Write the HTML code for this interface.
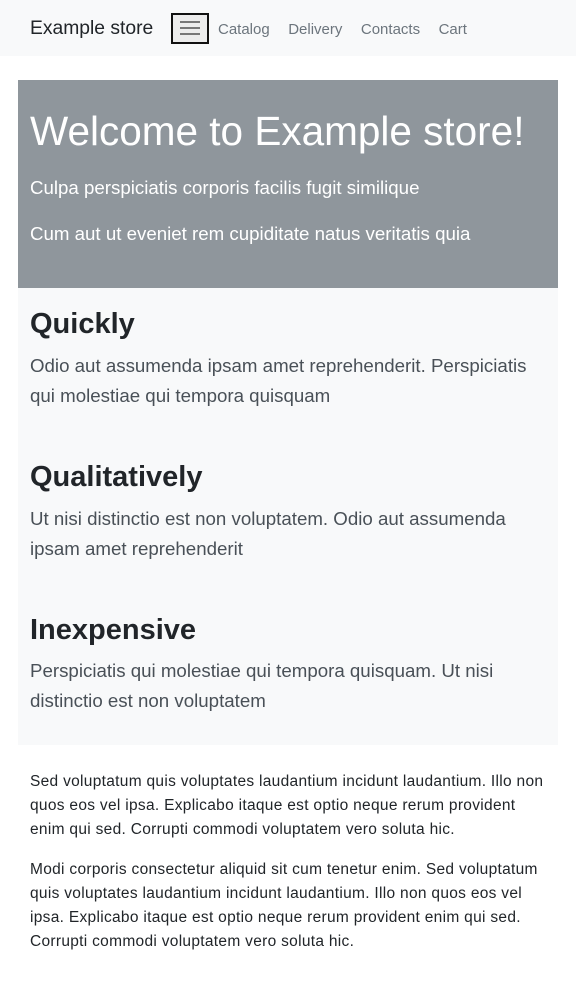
<!DOCTYPE html>
<html><head><meta charset="utf-8"><style>
*{margin:0;padding:0;box-sizing:border-box}
body{width:576px;height:1000px;background:#fff;font-family:"Liberation Sans",sans-serif;position:relative;overflow:hidden;color:#212529}
.a{position:absolute;white-space:nowrap}
</style></head><body>
<div class="a" style="left:0;top:0;width:576px;height:56px;background:#f8f9fa"></div>
<div class="a" style="left:30px;top:18px;font-size:19.3px;color:#212529">Example store</div>
<div class="a" style="left:171px;top:13px;width:38px;height:31px;border:2px solid #111;background:#ececec"></div>
<div class="a" style="left:180px;top:21px;width:20px;height:2px;background:#777"></div>
<div class="a" style="left:180px;top:27px;width:20px;height:2px;background:#777"></div>
<div class="a" style="left:180px;top:33px;width:20px;height:2px;background:#777"></div>
<div class="a" style="left:218px;top:21px;font-size:15px;color:#6c757d;word-spacing:2px">Catalog&nbsp;&nbsp;&nbsp;Delivery&nbsp;&nbsp;&nbsp;Contacts&nbsp;&nbsp;&nbsp;Cart</div>

<div class="a" style="left:18px;top:80px;width:540px;height:208px;background:#8f969c"></div>
<div class="a" style="left:30px;top:108px;font-size:40.5px;color:#fff;font-weight:300">Welcome to Example store!</div>
<div class="a" style="left:30px;top:177px;font-size:18.7px;color:#fff">Culpa perspiciatis corporis facilis fugit similique</div>
<div class="a" style="left:30px;top:223px;font-size:18.7px;color:#fff">Cum aut ut eveniet rem cupiditate natus veritatis quia</div>

<div class="a" style="left:18px;top:288px;width:540px;height:457px;background:#f8f9fa"></div>
<div class="a" style="left:30px;top:308px;font-size:29px;font-weight:bold;color:#212529">Quickly</div>
<div class="a" style="left:30px;top:351px;font-size:18.7px;line-height:30px;color:#495057">Odio aut assumenda ipsam amet reprehenderit. Perspiciatis<br>qui molestiae qui tempora quisquam</div>
<div class="a" style="left:30px;top:461px;font-size:29px;font-weight:bold;color:#212529">Qualitatively</div>
<div class="a" style="left:30px;top:504px;font-size:18.7px;line-height:30px;color:#495057">Ut nisi distinctio est non voluptatem. Odio aut assumenda<br>ipsam amet reprehenderit</div>
<div class="a" style="left:30px;top:614px;font-size:29px;font-weight:bold;color:#212529">Inexpensive</div>
<div class="a" style="left:30px;top:656px;font-size:18.7px;line-height:30px;color:#495057">Perspiciatis qui molestiae qui tempora quisquam. Ut nisi<br>distinctio est non voluptatem</div>

<div class="a" style="left:30px;top:770px;font-size:15.5px;letter-spacing:0.3px;line-height:24px;color:#212529">Sed voluptatum quis voluptates laudantium incidunt laudantium. Illo non<br>quos eos vel ipsa. Explicabo itaque est optio neque rerum provident<br>enim qui sed. Corrupti commodi voluptatem vero soluta hic.</div>
<div class="a" style="left:30px;top:858px;font-size:15.5px;letter-spacing:0.3px;line-height:24px;color:#212529">Modi corporis consectetur aliquid sit cum tenetur enim. Sed voluptatum<br>quis voluptates laudantium incidunt laudantium. Illo non quos eos vel<br>ipsa. Explicabo itaque est optio neque rerum provident enim qui sed.<br>Corrupti commodi voluptatem vero soluta hic.</div>
</body></html>
